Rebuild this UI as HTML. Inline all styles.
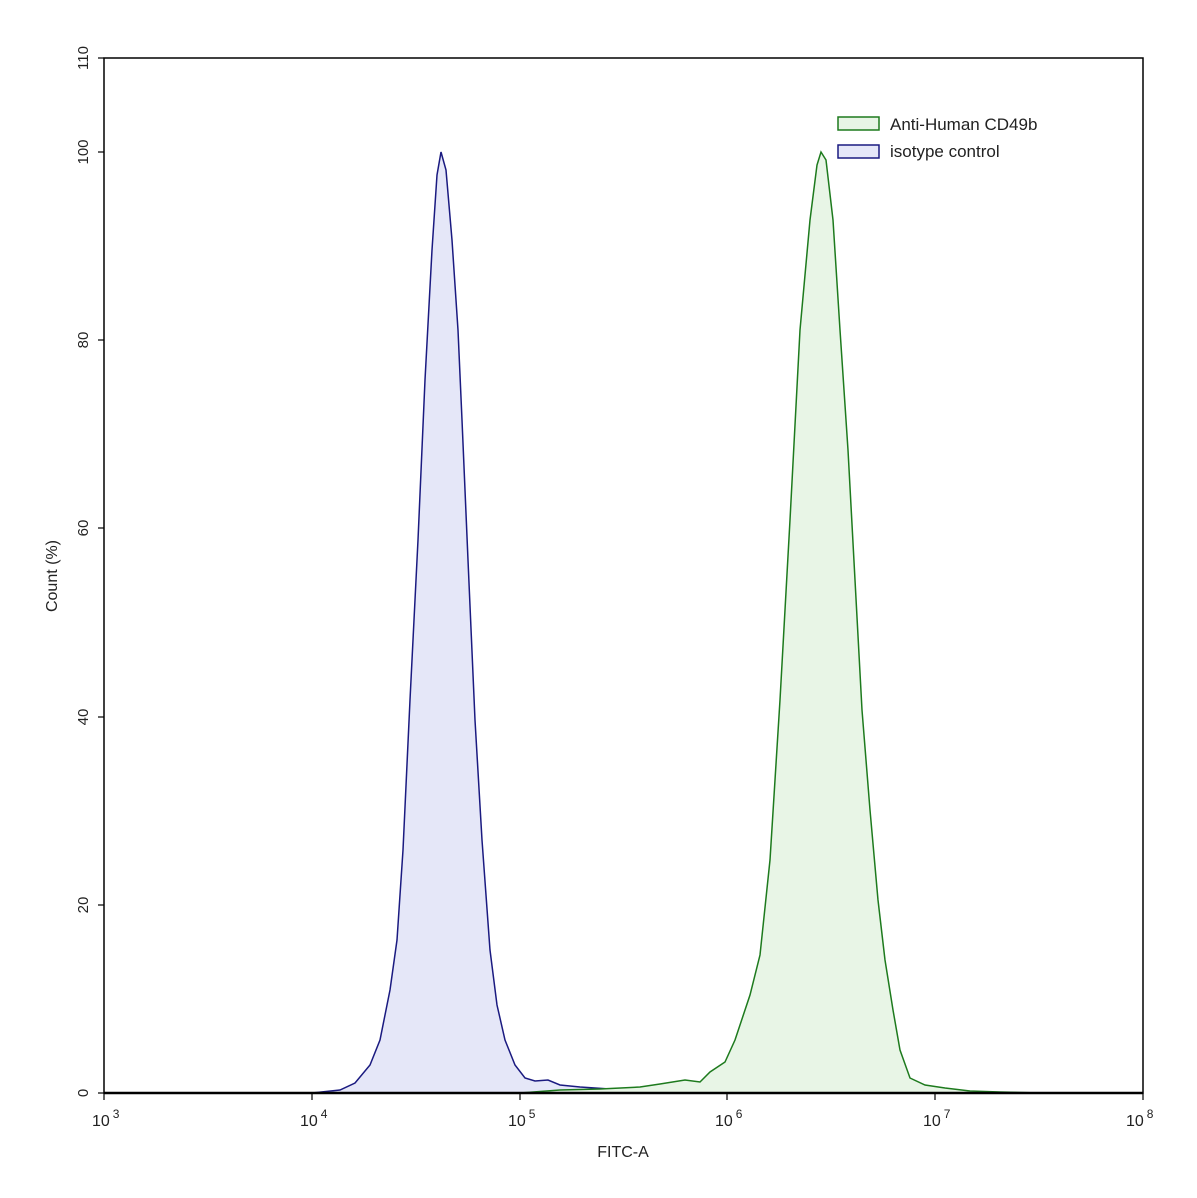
<!DOCTYPE html>
<html><head><style>body{margin:0;background:#fff}</style></head><body>
<svg width="1197" height="1193" xmlns="http://www.w3.org/2000/svg" font-family="Liberation Sans, sans-serif">
<rect width="1197" height="1193" fill="#fff"/>
<polygon fill="#e5e7f8" stroke="#1a1a80" stroke-width="1.5" points="312,1093 340,1090 355,1083 370,1065 380,1040 390,990 397,940 403,850 410,700 418,540 425,380 432,250 437,175 441,152 446,170 452,240 458,330 462,420 468,560 475,720 482,840 490,950 497,1005 505,1040 515,1065 525,1078 535,1081 548,1080 560,1085 580,1087 610,1089 640,1090 680,1092 700,1093"/>
<polygon fill="#e8f5e6" stroke="#1d7a1d" stroke-width="1.5" points="520,1093 560,1090 600,1089 640,1087 660,1084 685,1080 700,1082 710,1072 725,1062 735,1040 750,995 760,955 770,860 780,700 790,520 800,330 810,220 817,165 821,152 826,160 833,220 840,330 848,450 855,580 862,710 870,810 878,900 885,960 893,1010 900,1050 910,1078 925,1085 945,1088 970,1091 1000,1092 1040,1093"/>
<rect x="104" y="58" width="1039" height="1035" fill="none" stroke="#000" stroke-width="1.5"/>
<line x1="104" y1="1093" x2="1143" y2="1093" stroke="#000" stroke-width="2.5"/>
<g stroke="#000" stroke-width="1.2">
<line x1="98" y1="1093" x2="104" y2="1093"/><line x1="98" y1="905" x2="104" y2="905"/><line x1="98" y1="717" x2="104" y2="717"/><line x1="98" y1="528" x2="104" y2="528"/><line x1="98" y1="340" x2="104" y2="340"/><line x1="98" y1="152" x2="104" y2="152"/><line x1="98" y1="58" x2="104" y2="58"/>
<line x1="104" y1="1093" x2="104" y2="1100"/><line x1="312" y1="1093" x2="312" y2="1100"/><line x1="520" y1="1093" x2="520" y2="1100"/><line x1="727" y1="1093" x2="727" y2="1100"/><line x1="935" y1="1093" x2="935" y2="1100"/><line x1="1143" y1="1093" x2="1143" y2="1100"/>
</g>
<g font-size="15" fill="#222" text-anchor="middle">
<text transform="translate(88,1093) rotate(-90)">0</text>
<text transform="translate(88,905) rotate(-90)">20</text>
<text transform="translate(88,717) rotate(-90)">40</text>
<text transform="translate(88,528) rotate(-90)">60</text>
<text transform="translate(88,340) rotate(-90)">80</text>
<text transform="translate(88,152) rotate(-90)">100</text>
<text transform="translate(88,58) rotate(-90)">110</text>
<text transform="translate(57,576) rotate(-90)" font-size="16">Count  (%)</text>
<text x="623" y="1157" font-size="16">FITC-A</text>
</g>
<g font-size="16" fill="#222">
<text x="92" y="1126">10<tspan font-size="12" dx="3" dy="-8">3</tspan></text>
<text x="300" y="1126">10<tspan font-size="12" dx="3" dy="-8">4</tspan></text>
<text x="508" y="1126">10<tspan font-size="12" dx="3" dy="-8">5</tspan></text>
<text x="715" y="1126">10<tspan font-size="12" dx="3" dy="-8">6</tspan></text>
<text x="923" y="1126">10<tspan font-size="12" dx="3" dy="-8">7</tspan></text>
<text x="1126" y="1126">10<tspan font-size="12" dx="3" dy="-8">8</tspan></text>
</g>
<rect x="838" y="117" width="41" height="13" fill="#e8f5e6" stroke="#1d7a1d" stroke-width="1.5"/>
<rect x="838" y="145" width="41" height="13" fill="#e5e7f8" stroke="#1a1a80" stroke-width="1.5"/>
<text x="890" y="130" font-size="17" fill="#222">Anti-Human CD49b</text>
<text x="890" y="157" font-size="17" fill="#222">isotype control</text>
</svg>
</body></html>
